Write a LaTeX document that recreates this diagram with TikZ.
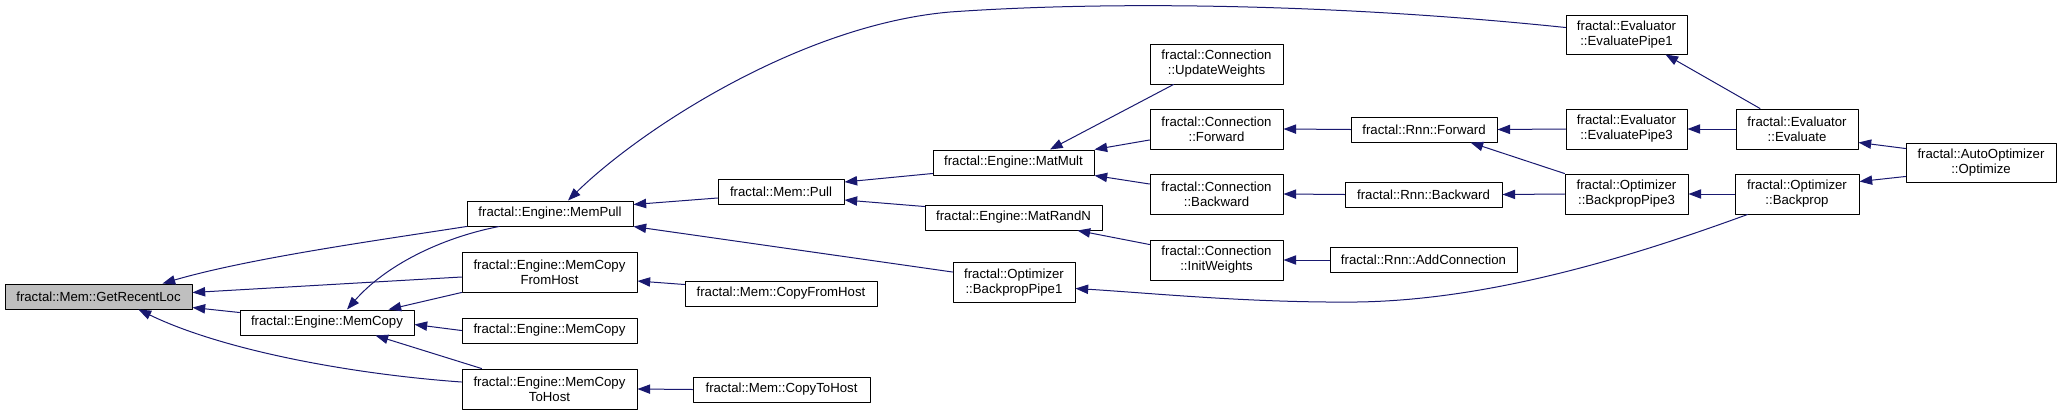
\documentclass[tikz,border=0pt]{standalone}
\usepackage{fontspec}
\setmainfont{Liberation Sans}
\usetikzlibrary{calc,arrows.meta}
\definecolor{edgeblue}{HTML}{191970}
\definecolor{rootgray}{HTML}{BFBFBF}
\newdimen\px \px=0.75pt

\begin{document}
\begin{tikzpicture}[x=0.75pt,y=-0.75pt,line cap=round,line join=round,
  fn/.style={draw=black,fill=white,line width=0.75pt,inner sep=0pt,minimum height=25\px,align=center,font=\fontsize{9.9pt}{11.25pt}\selectfont},
  fn2/.style={fn,minimum height=40\px},
  call/.style={draw=edgeblue,line width=0.75pt,-{Triangle[length=9.5pt,width=7pt]},fill=none}]
\useasboundingbox (0,0) rectangle (2061,415);
% root and direct callers
\node[fn,fill=rootgray,minimum width=187\px] (recent) at (98.5,296.5) {fractal::Mem::GetRecentLoc};
\node[fn,minimum width=174\px] (memcopy) at (327,322.5) {fractal::Engine::MemCopy};
\node[fn,minimum width=166\px] (mempull) at (550,213.5) {fractal::Engine::MemPull};
\node[fn2,minimum width=175\px] (cpyfrom) at (549.5,272) {fractal::Engine::MemCopy\\FromHost};
\node[fn,minimum width=175\px] (memcopyb) at (549.5,330.5) {fractal::Engine::MemCopy};
\node[fn2,minimum width=175\px] (cpyto) at (549.5,389) {fractal::Engine::MemCopy\\ToHost};
% Mem level
\node[fn,minimum width=126\px] (pull) at (781,192) {fractal::Mem::Pull};
\node[fn,minimum width=192\px] (copyfromhost) at (781,293.5) {fractal::Mem::CopyFromHost};
\node[fn,minimum width=177\px] (copytohost) at (781.5,389.5) {fractal::Mem::CopyToHost};
% Engine level
\node[fn,minimum width=161\px] (matmult) at (1013.5,162.5) {fractal::Engine::MatMult};
\node[fn,minimum width=177\px] (matrandn) at (1013.5,217.5) {fractal::Engine::MatRandN};
\node[fn2,minimum width=122\px] (bpp1) at (1014,282.5) {fractal::Optimizer\\::BackpropPipe1};
% Connection level
\node[fn2,minimum width=133\px] (updw) at (1216.5,64) {fractal::Connection\\::UpdateWeights};
\node[fn2,minimum width=133\px] (cfwd) at (1216.5,129) {fractal::Connection\\::Forward};
\node[fn2,minimum width=133\px] (cbwd) at (1216.5,194) {fractal::Connection\\::Backward};
\node[fn2,minimum width=133\px] (initw) at (1216.5,260) {fractal::Connection\\::InitWeights};
% Rnn level
\node[fn,minimum width=146\px] (rfwd) at (1424,129.5) {fractal::Rnn::Forward};
\node[fn,minimum width=157\px] (rbwd) at (1423.5,194.5) {fractal::Rnn::Backward};
\node[fn,minimum width=187\px] (addc) at (1423.5,260) {fractal::Rnn::AddConnection};
% pipes
\node[fn2,minimum width=121\px,minimum height=39\px] (ep1) at (1626.5,34.5) {fractal::Evaluator\\::EvaluatePipe1};
\node[fn2,minimum width=121\px] (ep3) at (1626.5,129) {fractal::Evaluator\\::EvaluatePipe3};
\node[fn2,minimum width=123\px] (bp3) at (1626.5,194) {fractal::Optimizer\\::BackpropPipe3};
\node[fn2,minimum width=122\px] (eval) at (1797,129) {fractal::Evaluator\\::Evaluate};
\node[fn2,minimum width=124\px] (backprop) at (1797,194) {fractal::Optimizer\\::Backprop};
\node[fn2,minimum width=150\px,minimum height=39\px] (autoopt) at (1981,162.5) {fractal::AutoOptimizer\\::Optimize};
% calls into GetRecentLoc
\draw[call] (mempull.south west) .. controls (380,240) and (250,258) .. ($(recent.north)+(64,0)$);
\draw[call] ($(cpyfrom.west)+(0,5)$) -- ($(recent.east)+(0,-4)$);
\draw[call] ($(memcopy.north west)+(0,3)$) -- ($(recent.south east)+(0,-2)$);
\draw[call] ($(cpyto.west)+(0,-7)$) .. controls (350,374) and (222,350) .. ($(recent.south)+(40,0)$);
% calls into MemCopy
\draw[call] ($(mempull.south)+(-51,0)$) .. controls (440,238) and (385,266) .. ($(memcopy.north)+(20,0)$);
\draw[call] (cpyfrom.south west) -- ($(memcopy.north east)+(-26,0)$);
\draw[call] (memcopyb.west) -- ($(memcopy.east)+(0,2)$);
\draw[call] ($(cpyto.north west)+(20,0)$) -- ($(memcopy.south east)+(-39,0)$);
% calls into MemPull
\draw[call] ($(ep1.west)+(0,-7)$) .. controls (1350,5) and (1120,0) .. (950,12) .. controls (800,25) and (640,130) .. ($(mempull.north)+(18,0)$);
\draw[call] ($(pull.west)+(0,6)$) -- ($(mempull.north east)+(0,4)$);
\draw[call] ($(bpp1.north west)+(0,10)$) -- (mempull.south east);
\draw[call] ($(copyfromhost.west)+(0,-9)$) -- ($(cpyfrom.east)+(0,9)$);
\draw[call] (copytohost.west) -- (cpyto.east);
% calls into Mem::Pull
\draw[call] ($(matmult.south west)+(0,-2)$) -- ($(pull.north east)+(0,3)$);
\draw[call] ($(matrandn.north west)+(0,2)$) -- ($(pull.south east)+(0,-5)$);
% calls into MatMult and MatRandN
\draw[call] ($(updw.south west)+(24,0)$) -- ($(matmult.north)+(36.5,0)$);
\draw[call] ($(cfwd.west)+(0,11)$) -- (matmult.north east);
\draw[call] ($(cbwd.west)+(0,-10)$) -- (matmult.south east);
\draw[call] ($(initw.north west)+(0,5)$) -- ($(matrandn.south east)+(-25,0)$);
% Rnn calls
\draw[call] (rfwd.west) -- (cfwd.east);
\draw[call] (rbwd.west) -- (cbwd.east);
\draw[call] (addc.west) -- (initw.east);
\draw[call] (ep3.west) -- (rfwd.east);
\draw[call] (bp3.north west) -- ($(rfwd.south east)+(-27,0)$);
\draw[call] (bp3.west) -- (rbwd.east);
% Evaluate and Backprop
\draw[call] ($(eval.north)+(-37,0)$) -- ($(ep1.south east)+(-22,0)$);
\draw[call] (eval.west) -- (ep3.east);
\draw[call] (backprop.west) -- (bp3.east);
\draw[call] ($(backprop.south west)+(13,0)$) .. controls (1650,250) and (1500,300) .. (1357,302) .. controls (1250,303) and (1150,293) .. ($(bpp1.east)+(0,6)$);
\draw[call] ($(autoopt.north west)+(0,6)$) -- ($(eval.south east)+(0,-7)$);
\draw[call] ($(autoopt.south west)+(0,-6)$) -- ($(backprop.north east)+(0,8)$);
\end{tikzpicture}
\end{document}
